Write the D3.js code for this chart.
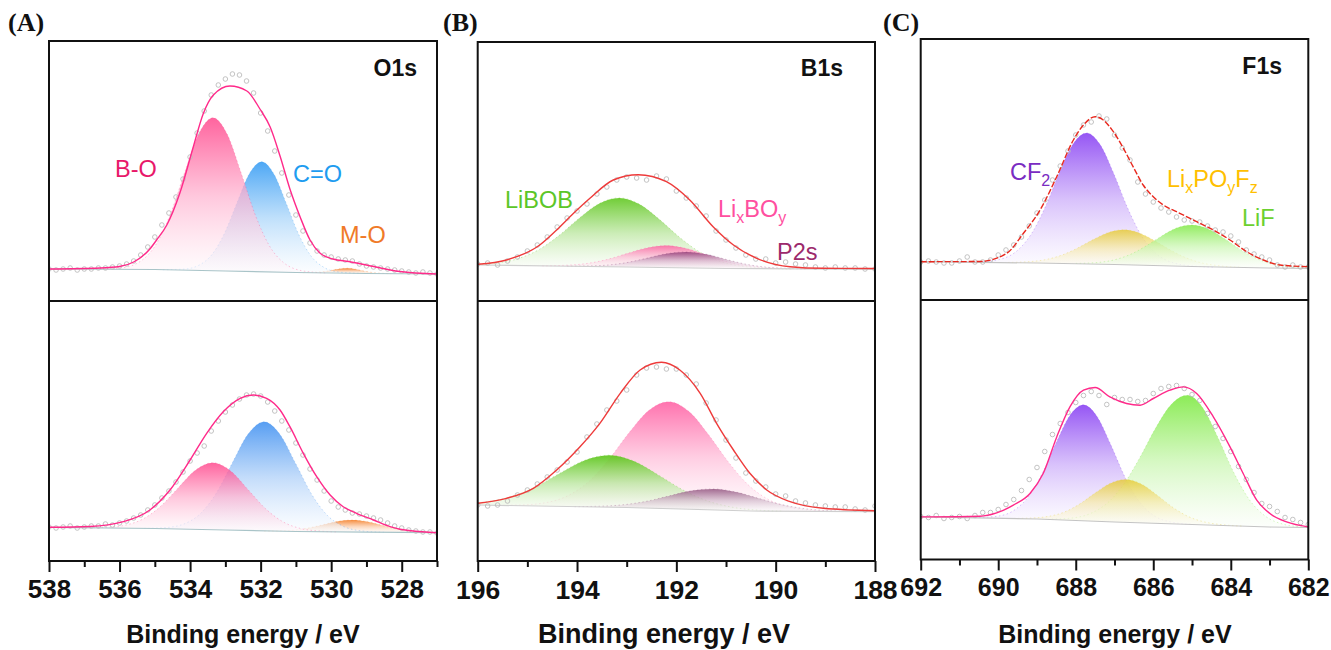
<!DOCTYPE html>
<html><head><meta charset="utf-8">
<script src="https://cdn.jsdelivr.net/npm/d3@7"></script>
<style>body{margin:0;background:#fff} svg{display:block}</style>
</head><body>
<svg id="chart" width="1331" height="650"></svg>
<script>
// ================= DATA =================
// tick labels
const ticksA = [538, 536, 534, 532, 530, 528];
const minorA = [537, 535, 533, 531, 529, 527];
const ticksB = [196, 194, 192, 190, 188];
const minorB = [195, 193, 191, 189];
const ticksC = [692, 690, 688, 686, 684, 682];
const minorC = [691, 689, 687, 685, 683];
const axisTitle = "Binding energy / eV";

// measured points: first energy, step (eV) and intensities (a.u.)
const A_pointStart = 538, B_pointStart = 196, C_pointStart = 692, pointStep = 0.2;
const A_top_points = [32,31,32,33,31,32,32,33,33,34,35,37,40,46,54,64,76,88,104,122,144,168,190,206,216,222,227,226,220,208,188,170,150,128,106,86,70,58,50,46,44,42,41,40,37,35,34,33,32,31,30,29,28,29,28,27];
const A_bot_points = [34,33,34,35,33,34,35,35,37,36,38,40,43,46,51,56,63,70,79,89,100,108,115,130,140,149,156,162,166,167,165,159,150,140,131,118,106,92,81,70,60,54,51,48,47,45,43,41,38,35,33,31,30,29,29,28];
const B_top_points = [37,38,36,40,44,50,56,64,74,83,90,97,107,114,121,124,123,121,125,122,110,103,95,85,70,61,53,46,42,42,38,39,37,36,34,33,34,33,33,32,32];
const B_bot_points = [56,55,56,60,66,71,77,84,91,99,109,124,137,151,160,171,186,193,194,192,192,186,177,158,141,121,103,88,80,74,67,65,60,58,56,55,54,54,52,51,55];
const C_top_points = [38,39,38,37,37,39,43,38,38,40,45,50,55,63,74,87,100,120,134,149,165,175,178,184,181,165,152,140,118,106,98,92,88,83,80,79,78,74,70,68,64,58,50,46,43,40,35,33,35,33,33];
const C_bot_points = [43,42,44,41,42,43,41,44,47,47,50,55,60,69,80,92,108,125,136,147,157,164,168,164,155,162,160,160,158,159,166,171,173,174,171,165,159,146,133,121,108,93,80,67,56,53,48,42,40,37,35];

// background lines [energy, intensity]
const A_top_base = [[538,32],[535,31.5],[533,30],[531,28.5],[529,27.5],[527,27]];
const A_bot_base = [[538,33.7],[535,32.5],[533,31],[531,29.5],[529,28.8],[527,28.3]];
const B_top_base = [[196,36],[193,34],[191,32.5],[188,31.7]];
const B_bot_base = [[196,56],[193,53.5],[190.5,50],[188,49.3]];
const C_top_base = [[692,38.3],[689,37],[687,35.5],[685,33.5],[683,32],[682,31.7]];
const C_bot_base = [[692,42.6],[689,40.5],[687,37.5],[685,35],[683,32.5],[682,32]];

// fitted envelopes [energy, intensity]
const A_top_env = [[538,32],[536.55,33],[536,34.5],[535.6,39],[535.14,52],[534.95,61],[534.66,76],[534.29,108],[533.91,154],[533.63,187],[533.34,206],[532.87,215],[532.39,210],[532.02,192],[531.73,174],[531.45,145],[531.17,112],[530.88,84],[530.6,61],[530.32,48],[529.95,42],[529.5,39.5],[529,36],[528.05,29.5],[527,27]];
const A_bot_env = [[538,33.7],[536.84,34.5],[535.89,39.3],[535.14,51],[534.57,71],[534,101],[533.53,127.7],[533.06,149.3],[532.58,162.7],[532.21,166],[531.83,162.7],[531.45,151],[531.17,134.3],[530.79,107.7],[530.41,84.3],[530.03,66],[529.66,54.3],[529.28,47.7],[528.8,41],[528.33,34.3],[528.05,31.7],[527,28.3]];
const B_top_env = [[196,36.7],[195.42,41],[194.75,56],[194.41,71],[194.07,87.7],[193.74,102.7],[193.27,121],[192.77,126.3],[192.2,119.3],[191.73,101],[191.26,74.3],[190.85,56],[190.38,42.7],[189.71,34.3],[189.04,32.7],[188,32.5]];
const B_bot_env = [[196,57.7],[195.42,62.7],[194.88,72.7],[194.41,91],[193.94,114.3],[193.54,137.7],[193.13,167.7],[192.73,191],[192.3,198.7],[191.93,191],[191.52,167.7],[191.19,137.7],[190.85,111],[190.52,87.7],[190.18,71],[189.71,59.3],[189.04,52.7],[188,50.3]];
const C_top_env = [[692,38.3],[690.47,38.5],[689.78,46.7],[689.35,66.7],[688.92,90],[688.49,123.3],[688.06,160],[687.8,175],[687.5,183.3],[687.29,180],[687.03,168.3],[686.77,151.7],[686.52,133.3],[686.26,115],[686,103.3],[685.74,95],[685.4,88.3],[684.88,78.3],[684.45,70],[684.02,60],[683.59,48.3],[683.16,40],[682.73,35],[682,33.3]];
const C_bot_env = [[692,42.6],[690.47,43.3],[690.04,46.6],[689.61,54.3],[689.18,66],[688.84,86],[688.49,122.6],[688.15,152.6],[687.8,169.3],[687.5,172],[687.12,162.6],[686.69,156],[686.34,154.3],[686,161],[685.57,169.3],[685.22,172.6],[684.88,166],[684.45,142.6],[684.02,112.6],[683.68,86],[683.33,59.3],[682.99,46],[682.56,37.6],[682,32.6]];

// fitted components: [energy, intensity above background]
const A_top_BO = [[536.55,0],[535.95,1.4],[535.35,9.6],[534.95,26],[534.55,56.5],[534.15,98],[533.75,137],[533.35,153],[532.95,137],[532.55,98],[532.15,56.5],[531.75,26],[531.35,9.6],[530.75,1.4],[530.15,0]];
const A_top_CO = [[534.77,0],[534.17,1],[533.72,5.8],[533.37,16.6],[533.02,38],[532.67,68.6],[532.32,97.8],[531.97,110],[531.62,97.8],[531.27,68.6],[530.92,38],[530.57,16.6],[530.22,5.8],[529.77,1],[529.17,0]];
const A_top_MO = [[530.8,0],[530.3,0.9],[530.05,2.3],[529.8,4.1],[529.55,5],[529.3,4.1],[529.05,2.3],[528.8,0.9],[528.3,0]];
const A_bot_BO = [[536.85,0],[536.35,0.7],[535.85,2.9],[535.35,9.1],[534.85,21.8],[534.35,40.6],[533.85,59.1],[533.35,67],[532.85,59.1],[532.35,40.6],[531.85,21.8],[531.35,9.1],[530.85,2.9],[530.35,0.7],[529.85,0]];
const A_bot_CO = [[535.3,0],[534.7,1.1],[534.15,5.5],[533.7,16.1],[533.25,37.1],[532.8,67.5],[532.35,96.7],[531.9,109],[531.45,96.7],[531,67.5],[530.55,37.1],[530.1,16.1],[529.65,5.5],[529.1,1.1],[528.5,0]];
const A_bot_MO = [[531.9,0],[531.4,0.5],[531,1.6],[530.6,3.9],[530.2,7.3],[529.8,10.6],[529.4,12],[529,10.6],[528.6,7.3],[528.2,3.9],[527.8,1.6],[527.4,0.5],[527,0.1]];
const B_top_LiBOB = [[196,0.6],[195.65,2.1],[195.15,7.5],[194.75,16.7],[194.35,31.1],[193.95,48.4],[193.55,63.1],[193.15,69],[192.75,63.1],[192.35,48.4],[191.95,31.1],[191.55,16.7],[191.15,7.5],[190.65,2.1],[190.15,0.5],[189.65,0]];
const B_top_LiBO = [[194.7,0],[194.2,1],[193.8,3],[193.4,7.2],[193,13.4],[192.6,19.4],[192.2,22],[191.8,19.4],[191.4,13.4],[191,7.2],[190.6,3],[190.2,1],[189.7,0]];
const B_top_P2s = [[194.2,0],[193.8,0.5],[193.4,1.6],[193,4.4],[192.6,9.1],[192.2,13.9],[191.8,16],[191.4,13.9],[191,9.1],[190.6,4.4],[190.2,1.6],[189.8,0.5],[189.4,0]];
const B_bot_LiBOB = [[196,2.2],[195.85,3.1],[195.35,8.5],[194.85,18.7],[194.35,33],[193.85,46.4],[193.35,52],[192.85,46.4],[192.35,33],[191.85,18.7],[191.35,8.5],[190.85,3.1],[190.35,0.9],[189.85,0]];
const B_bot_LiBO = [[195.65,0],[195.15,0.7],[194.65,3.3],[194.15,11.7],[193.75,25.9],[193.35,48.2],[192.95,75],[192.55,97.9],[192.15,107],[191.75,97.9],[191.35,75],[190.95,48.2],[190.55,25.9],[190.15,11.7],[189.65,3.3],[189.15,0.7],[188.65,0]];
const B_bot_P2s = [[194.05,0],[193.5,0.9],[193.05,2.8],[192.6,6.8],[192.15,12.8],[191.7,18.5],[191.25,21],[190.8,18.5],[190.35,12.8],[189.9,6.8],[189.45,2.8],[189,0.9],[188.45,0]];
const C_top_CF2 = [[691.02,0],[690.52,0.4],[689.92,3.6],[689.47,13.5],[689.12,30.5],[688.77,57.6],[688.42,91],[688.07,119.6],[687.72,131],[687.37,119.6],[687.02,91],[686.67,57.6],[686.32,30.5],[685.97,13.5],[685.52,3.6],[684.92,0.4],[684.42,0]];
const C_top_LiPOF = [[689.75,0.2],[689.25,1.1],[688.75,3.8],[688.35,8.5],[687.95,15.8],[687.55,24.5],[687.15,32],[686.75,35],[686.35,32],[685.95,24.5],[685.55,15.8],[685.15,8.5],[684.75,3.8],[684.25,1.1],[683.75,0.2]];
const C_top_LiF = [[688,0.3],[687.5,1.4],[687,4.7],[686.6,10.3],[686.2,19],[685.8,29.3],[685.4,38.1],[685,41.5],[684.6,38.1],[684.2,29.3],[683.8,19],[683.4,10.3],[683,4.7],[682.5,1.4],[682,0.3]];
const C_bot_CF2 = [[690.6,0.2],[690,2.2],[689.55,9.4],[689.2,23.2],[688.85,46.8],[688.5,77.5],[688.15,104.9],[687.8,116],[687.45,104.9],[687.1,77.5],[686.75,46.8],[686.4,23.2],[686.05,9.4],[685.6,2.2],[685,0.2]];
const C_bot_LiPOF = [[689.7,0],[689.2,0.7],[688.7,3.1],[688.3,7.9],[687.9,16.6],[687.5,28.2],[687.1,38.7],[686.7,43],[686.3,38.7],[685.9,28.2],[685.5,16.6],[685.1,7.9],[684.7,3.1],[684.2,0.7],[683.7,0]];
const C_bot_LiF = [[688.62,0.5],[688.12,2.2],[687.62,7.6],[687.12,21],[686.72,40.4],[686.32,67.1],[685.92,96.5],[685.52,120],[685.12,129],[684.72,116.9],[684.32,86.9],[683.92,53],[683.52,26.6],[683.12,11],[682.62,2.7],[682.22,0.7],[682,0.3]];

// ================= DRAWING =================
const svg = d3.select('#chart');
const defs = svg.append('defs');
const SANS = '"Liberation Sans", Arial, Helvetica, sans-serif';
const SERIF = '"Liberation Serif", "Times New Roman", serif';

function gradient(id, color) {
  const g = defs.append('linearGradient').attr('id', id)
    .attr('x1', 0).attr('y1', 0).attr('x2', 0).attr('y2', 1);
  const mix = d3.interpolateRgb(color, '#ffffff');
  g.append('stop').attr('offset', '0%').attr('stop-color', color).attr('stop-opacity', 1);
  g.append('stop').attr('offset', '50%').attr('stop-color', mix(0.6)).attr('stop-opacity', 0.9);
  g.append('stop').attr('offset', '100%').attr('stop-color', mix(0.97)).attr('stop-opacity', 0.6);
  return `url(#${id})`;
}

function drawSub(cfg) {
  const y = d3.scaleLinear().domain([0, cfg.bottom - cfg.top]).range([cfg.bottom, cfg.top]);
  const bl = d3.scaleLinear().domain(cfg.base.map(d => d[0])).range(cfg.base.map(d => d[1])).clamp(true);
  const x = cfg.x;
  const clipId = 'clip-' + cfg.id;
  defs.append('clipPath').attr('id', clipId).append('rect')
    .attr('x', cfg.x0).attr('y', cfg.top).attr('width', cfg.x1 - cfg.x0).attr('height', cfg.bottom - cfg.top);
  const g = svg.append('g').attr('clip-path', `url(#${clipId})`);

  // components
  cfg.comps.forEach((c, i) => {
    const fill = gradient(`${cfg.id}-g${i}`, c.color);
    const area = d3.area().x(d => x(d[0])).y0(d => y(bl(d[0]))).y1(d => y(bl(d[0]) + d[1])).curve(d3.curveMonotoneX);
    g.append('path').datum(c.data).attr('d', area).attr('fill', fill).attr('fill-opacity', c.op || 0.85);
    const line = d3.line().x(d => x(d[0])).y(d => y(bl(d[0]) + d[1])).curve(d3.curveMonotoneX);
    g.append('path').datum(c.data).attr('d', line).attr('fill', 'none')
      .attr('stroke', c.color).attr('stroke-opacity', 0.3).attr('stroke-width', 1).attr('stroke-dasharray', '1.5,2.5');
  });

  // background
  g.append('path').datum(cfg.base)
    .attr('d', d3.line().x(d => x(d[0])).y(d => y(d[1])))
    .attr('fill', 'none').attr('stroke', cfg.baseColor).attr('stroke-width', 1.2);

  // measured points
  g.append('g').selectAll('circle').data(cfg.points).join('circle')
    .attr('cx', (d, i) => x(cfg.pStart - i * pointStep)).attr('cy', d => y(d))
    .attr('r', 2.3).attr('fill', 'none').attr('stroke', '#bcbcbc').attr('stroke-width', 0.9);

  // envelope
  const env = g.append('path').datum(cfg.env)
    .attr('d', d3.line().x(d => x(d[0])).y(d => y(d[1])).curve(d3.curveMonotoneX))
    .attr('fill', 'none').attr('stroke', cfg.envColor).attr('stroke-width', 1.4);
  if (cfg.envDash) env.attr('stroke-dasharray', cfg.envDash);
}

function drawFrame(p) {
  svg.append('rect').attr('x', p.x0).attr('y', p.top).attr('width', p.x1 - p.x0).attr('height', p.bottom - p.top)
    .attr('fill', 'none').attr('stroke', '#111').attr('stroke-width', 2);
  svg.append('line').attr('x1', p.x0).attr('x2', p.x1).attr('y1', p.mid).attr('y2', p.mid)
    .attr('stroke', '#111').attr('stroke-width', 2);
  const major = d3.axisBottom(p.x).tickValues(p.ticks).tickSize(11).tickPadding(8).tickFormat(d3.format('d'));
  const ga = svg.append('g').attr('transform', `translate(0,${p.bottom})`).call(major);
  ga.select('.domain').remove();
  ga.selectAll('line').attr('stroke', '#111').attr('stroke-width', 2);
  ga.selectAll('text').attr('font-family', SANS).attr('font-weight', 'bold').attr('font-size', p.tickFont).attr('fill', '#111');
  const minor = d3.axisBottom(p.x).tickValues(p.minor).tickSize(6).tickFormat('');
  const gm = svg.append('g').attr('transform', `translate(0,${p.bottom})`).call(minor);
  gm.select('.domain').remove();
  gm.selectAll('line').attr('stroke', '#111').attr('stroke-width', 2);
  svg.append('text').attr('x', p.titleX).attr('y', 643).attr('text-anchor', 'middle')
    .attr('font-family', SANS).attr('font-weight', 'bold').attr('font-size', p.titleFont).attr('fill', '#111').text(axisTitle);
  svg.append('text').attr('x', p.letterX).attr('y', 31).attr('font-family', SERIF).attr('font-weight', 'bold')
    .attr('font-size', 26).attr('fill', '#111').text(p.letter);
  svg.append('text').attr('x', p.coreX).attr('y', p.coreY).attr('text-anchor', 'end')
    .attr('font-family', SANS).attr('font-weight', 'bold').attr('font-size', 23).attr('fill', '#111').text(p.core);
}

function label(x, y, color, parts) {
  const t = svg.append('text').attr('x', x).attr('y', y).attr('font-family', SANS).attr('font-size', 23.5).attr('fill', color);
  let shift = 0;
  parts.forEach(p => {
    const sub = p.startsWith('_');
    const target = sub ? 6 : 0;
    t.append('tspan').attr('dy', target - shift).attr('font-size', sub ? 16 : 23.5).text(sub ? p.slice(1) : p);
    shift = target;
  });
}

// ---- Panel A ----
const xA = d3.scaleLinear().domain([538, 527]).range([49, 437]);
drawSub({id: 'At', x: xA, x0: 49, x1: 437, top: 41, bottom: 301, base: A_top_base, baseColor: '#a9c4c8',
  comps: [{data: A_top_MO, color: '#f47a20', op: 0.95}, {data: A_top_CO, color: '#2e98f3'}, {data: A_top_BO, color: '#ff3d86', op: 0.8}],
  points: A_top_points, pStart: A_pointStart, env: A_top_env, envColor: '#ff2a8a'});
drawSub({id: 'Ab', x: xA, x0: 49, x1: 437, top: 301, bottom: 561, base: A_bot_base, baseColor: '#a9c4c8',
  comps: [{data: A_bot_MO, color: '#f47a20'}, {data: A_bot_CO, color: '#3a8df0'}, {data: A_bot_BO, color: '#ff3d86', op: 0.8}],
  points: A_bot_points, pStart: A_pointStart, env: A_bot_env, envColor: '#ff2a8a'});
drawFrame({x: xA, x0: 49, x1: 437, top: 41, mid: 301, bottom: 561, ticks: ticksA, minor: minorA, tickFont: 26,
  titleX: 243, titleFont: 25, letter: '(A)', letterX: 8, core: 'O1s', coreX: 417, coreY: 76});

// ---- Panel B ----
const xB = d3.scaleLinear().domain([196, 188]).range([477.7, 875]);
drawSub({id: 'Bt', x: xB, x0: 478, x1: 875, top: 42, bottom: 301, base: B_top_base, baseColor: '#cfcfcf',
  comps: [{data: B_top_LiBOB, color: '#58c414'}, {data: B_top_LiBO, color: '#ff5aa0', op: 0.8}, {data: B_top_P2s, color: '#8b3572', op: 0.8}],
  points: B_top_points, pStart: B_pointStart, env: B_top_env, envColor: '#ee3b3b'});
drawSub({id: 'Bb', x: xB, x0: 478, x1: 875, top: 301, bottom: 561, base: B_bot_base, baseColor: '#cfcfcf',
  comps: [{data: B_bot_LiBO, color: '#ff5aa0'}, {data: B_bot_LiBOB, color: '#58c414', op: 0.9}, {data: B_bot_P2s, color: '#8b4a78', op: 0.8}],
  points: B_bot_points, pStart: B_pointStart, env: B_bot_env, envColor: '#ee3b3b'});
drawFrame({x: xB, x0: 477.7, x1: 875, top: 42, mid: 301, bottom: 561, ticks: ticksB, minor: minorB, tickFont: 26.5,
  titleX: 664, titleFont: 27, letter: '(B)', letterX: 443, core: 'B1s', coreX: 843, coreY: 76});

// ---- Panel C ----
const xC = d3.scaleLinear().domain([692, 682]).range([920.7, 1308.3]);
drawSub({id: 'Ct', x: xC, x0: 921, x1: 1308, top: 39, bottom: 300, base: C_top_base, baseColor: '#c4c4c4',
  comps: [{data: C_top_CF2, color: '#8338f2'}, {data: C_top_LiPOF, color: '#e6c92c', op: 0.8}, {data: C_top_LiF, color: '#78e83a', op: 0.8}],
  points: C_top_points, pStart: C_pointStart, env: C_top_env, envColor: '#e8281e', envDash: '6,2'});
drawSub({id: 'Cb', x: xC, x0: 921, x1: 1308, top: 300, bottom: 559.5, base: C_bot_base, baseColor: '#c4c4c4',
  comps: [{data: C_bot_CF2, color: '#8338f2'}, {data: C_bot_LiF, color: '#78e83a'}, {data: C_bot_LiPOF, color: '#e6c92c', op: 0.8}],
  points: C_bot_points, pStart: C_pointStart, env: C_bot_env, envColor: '#ff2a8a'});
drawFrame({x: xC, x0: 920.7, x1: 1308.3, top: 39, mid: 300, bottom: 559.5, ticks: ticksC, minor: minorC, tickFont: 25,
  titleX: 1115, titleFont: 25, letter: '(C)', letterX: 883, core: 'F1s', coreX: 1282, coreY: 74});

// ---- component labels ----
label(115, 177, '#e8186a', ['B-O']);
label(293, 182, '#1e9cf0', ['C=O']);
label(340, 243, '#f07a28', ['M-O']);
label(505, 208, '#5cc628', ['LiBOB']);
label(718, 217, '#ff4f9f', ['Li', '_x', 'BO', '_y']);
label(777, 260, '#9c2a6c', ['P2s']);
label(1010, 180, '#7a2cc2', ['CF', '_2']);
label(1167, 187, '#ffbf00', ['Li', '_x', 'PO', '_y', 'F', '_z']);
label(1242, 226, '#6cd030', ['LiF']);
</script>
</body></html>
